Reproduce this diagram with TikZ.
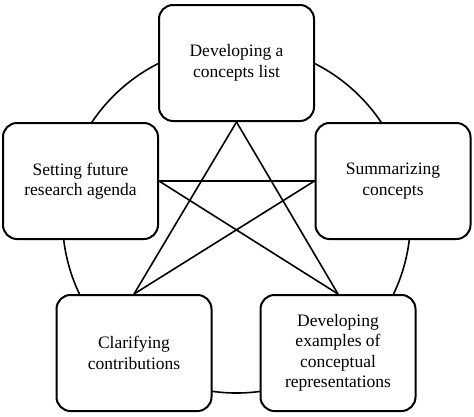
\documentclass[tikz,border=0pt]{standalone}
\usepackage{fontspec}
\setmainfont{Liberation Serif}
\usetikzlibrary{positioning}

\begin{document}
\begin{tikzpicture}[x=1pt,y=-1pt,line width=1.6pt,
  stage/.style={draw, line width=2pt, rounded corners=14pt, fill=white,
    minimum width=155pt, minimum height=116pt, align=center,
    font=\fontsize{17.5}{20.5}\selectfont}]
  \useasboundingbox (0,0) rectangle (474,416);
  \draw (236.5,219) circle (174pt);

  \node[stage] (List)    at (236.5,63) {Developing a\\concepts list};
  \node[stage] (Summary) at (393,181)  {Summarizing\\concepts};
  \node[stage] (Agenda)  at (80.5,181) {Setting future\\research agenda};
  \node[stage] (Clarify) at (134,353)  {Clarifying\\contributions};
  \node[stage] (Example) at (338,353)  {Developing\\examples of\\conceptual\\representations};

  \draw (List.south)   -- (Clarify.north);
  \draw (List.south)   -- (Example.north);
  \draw (Agenda.east)  -- (Summary.west);
  \draw (Agenda.east)  -- (Example.north);
  \draw (Summary.west) -- (Clarify.north);
\end{tikzpicture}
\end{document}
